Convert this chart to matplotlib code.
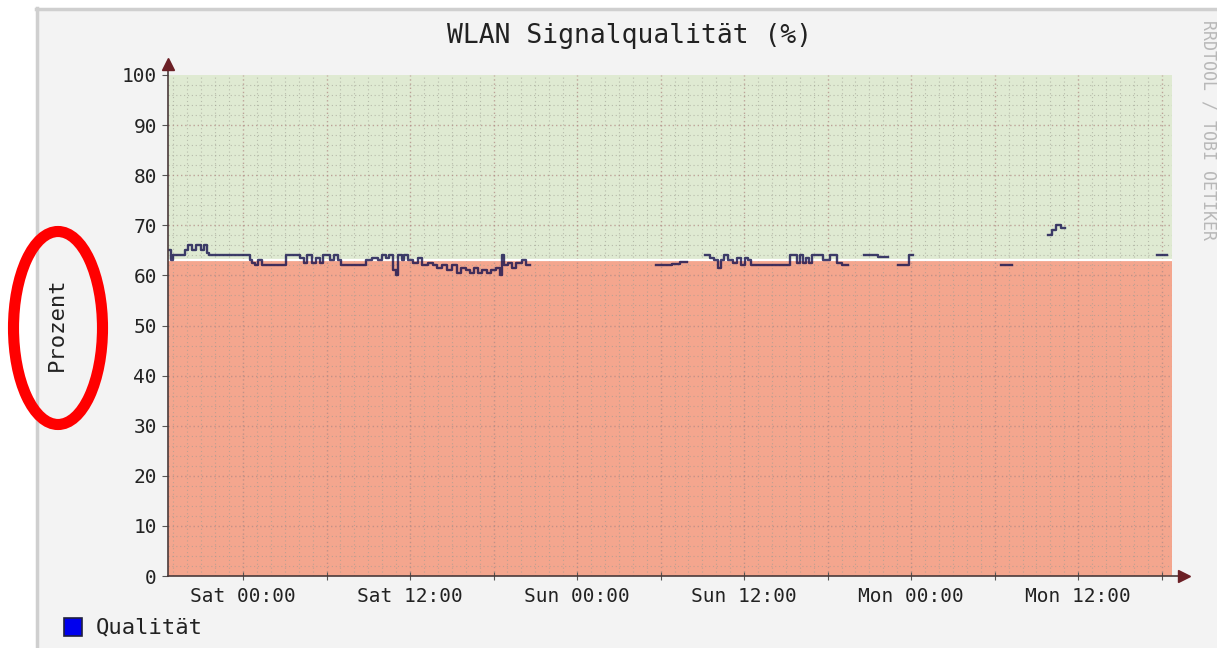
import numpy as np
import matplotlib
matplotlib.use("Agg")
import matplotlib.pyplot as plt
from matplotlib.patches import Rectangle, Ellipse
from matplotlib.lines import Line2D

# ---------------- data (hours relative to Sat 00:00) ----------------
nan = np.nan
hours = [
    -5.39, -5.17, -5.03, -4.17, -3.95, -3.66, -3.38, -3.02, -2.80, -2.59, -2.44,
    0.50, 0.65, 0.86, 1.08, 1.37, 3.09, 4.09, 4.38, 4.60, 4.96, 5.24, 5.53, 5.75,
    6.25, 6.54, 6.82, 7.04, 8.84, 9.27, 9.70, 9.99, 10.27, 10.49, 10.78, 10.99,
    11.14, 11.42, 11.57, 11.85, 12.21, 12.57, 12.86, 13.29, 13.65, 13.94, 14.30,
    14.66, 15.01, 15.37, 15.66, 16.02, 16.31, 16.59, 16.88, 17.17, 17.53, 17.82,
    18.18, 18.46, 18.61, 18.75, 19.04, 19.32, 19.61, 20.04, 20.33, 20.62,
    29.67, 30.82, 31.39, 31.90,
    33.19, 33.55, 33.84, 34.12, 34.34, 34.55, 34.84, 35.20, 35.49, 35.78, 36.06,
    36.28, 36.49, 39.30, 39.80, 40.01, 40.23, 40.45, 40.66, 40.88, 41.24, 41.67,
    42.17, 42.67, 43.03, 43.46,
    44.61, 45.26, 45.62, 46.34,
    47.05, 47.85, 48.13,
    54.45, 55.24,
    57.83, 58.12, 58.41, 58.76, 59.05,
    65.66, 66.38,
]
quality = [
    65, 63, 64, 65, 66, 65, 66, 65, 66, 64.5, 64,
    63, 62.5, 62, 63, 62, 64, 63.5, 62.5, 64, 62.5, 63.5, 62.5, 64,
    63, 64, 63, 62, 63, 63.5, 63, 64, 63.5, 64, 61, 60,
    64, 63, 64, 63, 62.5, 63.5, 62, 62.5, 62, 61.5, 62,
    61, 62, 60.5, 61.5, 61, 60.5, 61.5, 60.5, 61, 60.5, 61,
    61.5, 60, 64, 62, 62.5, 61.5, 62.5, 63, 62, nan,
    62, 62.3, 62.6, nan,
    64, 63.5, 63, 61.5, 63, 64, 63, 62.5, 63.5, 62, 63.5,
    63, 62, 64, 62.5, 64, 62.5, 63.5, 62.5, 64, 64, 63,
    64, 62.5, 62, nan,
    64, 64, 63.7, nan,
    62, 64, nan,
    62, nan,
    68, 69, 70, 69.5, nan,
    64, nan,
]
threshold = 63
x_ticks = [0, 12, 24, 36, 48, 60]
x_labels = ["Sat 00:00", "Sat 12:00", "Sun 00:00", "Sun 12:00", "Mon 00:00", "Mon 12:00"]
y_ticks = list(range(0, 101, 10))
x_range = (-5.39, 66.74)

W, H = 1217, 648
MONO = "DejaVu Sans Mono"

fig = plt.figure(figsize=(W / 100, H / 100), dpi=100)
fig.patch.set_facecolor("white")

def fx(x):
    return x / W

def fy(y):
    return 1 - y / H

# gray canvas like rrdtool
fig.patches.append(Rectangle((fx(36), 0), 1 - fx(36), fy(8), transform=fig.transFigure,
                             facecolor="#f3f3f3", edgecolor="none", zorder=-5))
fig.lines.append(Line2D([fx(37), fx(37)], [0, fy(8)], transform=fig.transFigure,
                        color="#cfcfcf", lw=2.5, zorder=-4))
fig.lines.append(Line2D([fx(36), 1], [fy(9), fy(9)], transform=fig.transFigure,
                        color="#cfcfcf", lw=2.5, zorder=-4))

ax = fig.add_axes([fx(168), fy(576), fx(1172) - fx(168), fy(75) - fy(576)])
ax.set_facecolor("none")
ax.set_xlim(*x_range)
ax.set_ylim(0, 100)

# threshold zones
ax.axhspan(threshold, 100, color="#dfead2", zorder=0)
ax.axhspan(0, threshold, color="#f4a68e", zorder=0)

# grid
for h in np.arange(-5, 67, 1):
    major = (h % 6 == 0)
    ax.axvline(h, color="#b08a84" if major else "#9c9c90",
               lw=1.0 if major else 0.8, alpha=0.75 if major else 0.6,
               ls=(0, (1, 2)) if major else (0, (1, 2.5)), zorder=1)
for v in range(2, 100, 2):
    major = (v % 10 == 0)
    ax.axhline(v, color="#b08a84" if major else "#9c9c90",
               lw=1.0 if major else 0.8, alpha=0.75 if major else 0.6,
               ls=(0, (1, 2)) if major else (0, (1, 2.5)), zorder=1)

ax.axhline(threshold, color="white", lw=1.6, zorder=2)

# data line
ax.step(hours, quality, where="post", color="#14104e", lw=1.7, alpha=0.8, zorder=3)

# axes
for s in ["top", "right", "left", "bottom"]:
    ax.spines[s].set_visible(False)
ax.plot([0, 1.012], [0, 0], transform=ax.transAxes, color="#4a3a3a", lw=1.2,
        clip_on=False, zorder=4)
ax.plot([0, 0], [0, 1.02], transform=ax.transAxes, color="#4a3a3a", lw=1.2,
        clip_on=False, zorder=4)
ax.plot([1.012], [0], transform=ax.transAxes, marker=">", color="#6b1f25",
        markersize=8, clip_on=False, zorder=5)
ax.plot([0], [1.022], transform=ax.transAxes, marker="^", color="#6b1f25",
        markersize=8, clip_on=False, zorder=5)

ax.set_xticks(x_ticks)
ax.set_xticklabels(x_labels, fontfamily=MONO, fontsize=14, color="#222222")
ax.set_xticks(np.arange(-0, 67, 6), minor=True)
ax.set_yticks(y_ticks)
ax.set_yticklabels([str(v) for v in y_ticks], fontfamily=MONO, fontsize=14, color="#222222")
ax.tick_params(axis="x", which="both", direction="inout", length=6, width=0.8,
               color="#555555", pad=5)
ax.tick_params(axis="y", direction="out", length=4, width=0.8, color="#555555", pad=4)

# texts
fig.text(fx(630), fy(36), "WLAN Signalqualität (%)", ha="center", va="center",
         fontfamily=MONO, fontsize=19, color="#222222")
fig.text(fx(57), fy(324), "Prozent", ha="center", va="center", rotation=90,
         fontfamily=MONO, fontsize=16, color="#222222")
fig.text(fx(1209), fy(130), "RRDTOOL / TOBI OETIKER", ha="center", va="center",
         rotation=270, fontfamily=MONO, fontsize=12, color="#b8b8b8")

# legend
fig.patches.append(Rectangle((fx(64), fy(636)), fx(82) - fx(64), fy(618) - fy(636),
                             transform=fig.transFigure, facecolor="#0000ee",
                             edgecolor="#202040", lw=1.2, zorder=5))
fig.text(fx(96), fy(627), "Qualität", ha="left", va="center",
         fontfamily=MONO, fontsize=16, color="#222222")

# red annotation ellipse
fig.patches.append(Ellipse((fx(58), fy(328)), 89 / W, 193 / H, transform=fig.transFigure,
                           facecolor="none", edgecolor="#ff0000", lw=8, zorder=6))

fig.savefig("out.png", dpi=100, facecolor=fig.get_facecolor())
